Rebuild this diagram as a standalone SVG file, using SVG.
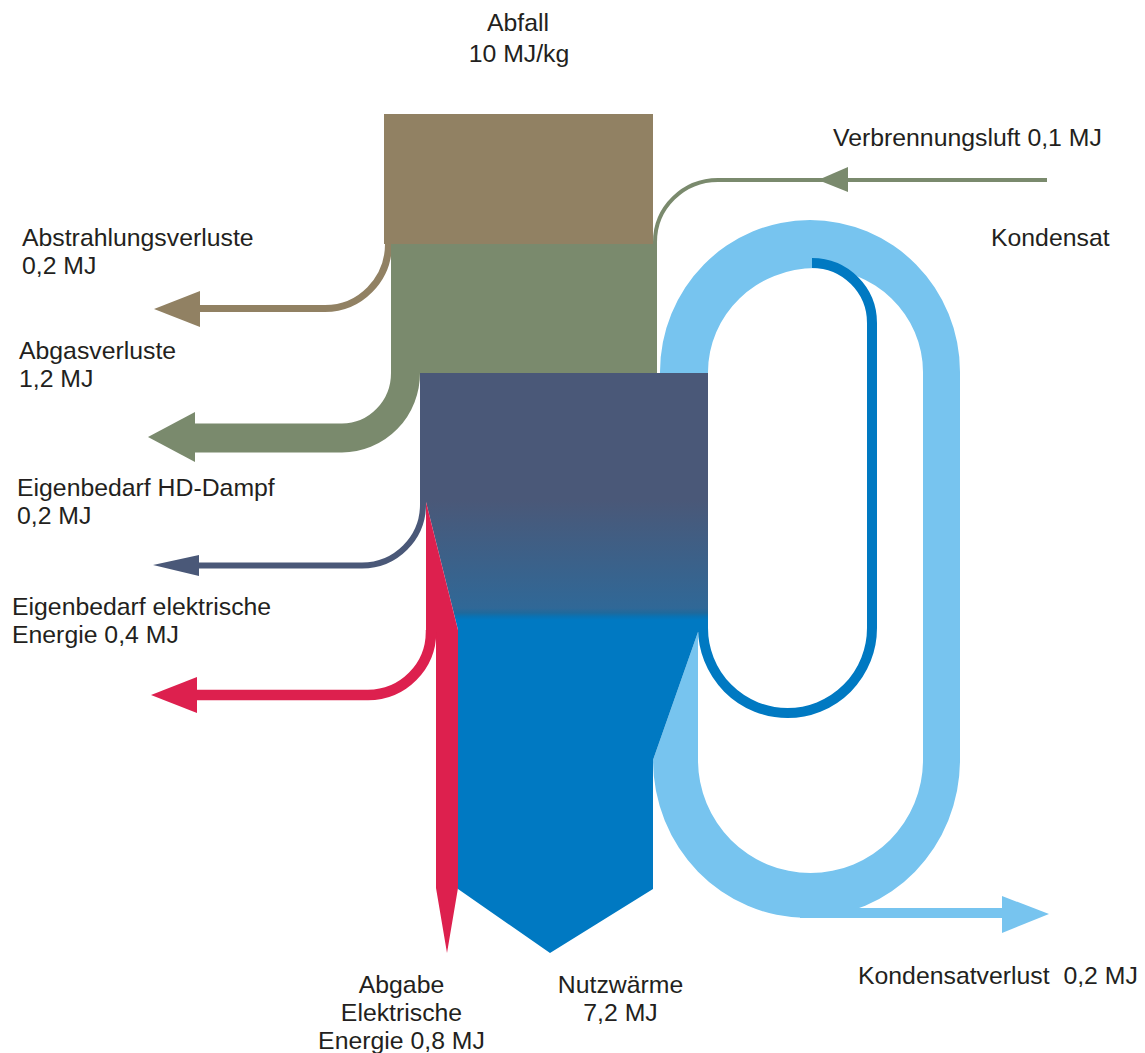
<svg xmlns="http://www.w3.org/2000/svg" width="1145" height="1053" viewBox="0 0 1145 1053">
  <style>
    text { font-family: "Liberation Sans", Arial, sans-serif; font-size: 24.8px; fill: #231f20; }
    .c { text-anchor: middle; }
    .brown { fill: #918163; }
    .green { fill: #7a8a6d; }
    .navy { fill: #4a5878; }
    .red { fill: #dd204e; }
    .lblue { fill: #77c4ef; }
    .line { fill: none; stroke-linecap: butt; }
  </style>
  <defs>
    <linearGradient id="bodyGrad" gradientUnits="userSpaceOnUse" x1="0" y1="500" x2="0" y2="620">
      <stop offset="0" stop-color="#4a5878"/>
      <stop offset="0.9" stop-color="#306897"/>
      <stop offset="0.94" stop-color="#1f699c"/>
      <stop offset="0.97" stop-color="#0a72b3"/>
      <stop offset="1" stop-color="#0079c2"/>
    </linearGradient>
  </defs>
  <rect width="1145" height="1053" fill="#ffffff"/>

  <g id="connectors">
    <!-- Kondensat loop (light blue) -->
    <path class="lblue" d="M 660,373 L 660,372 A 150 152 0 0 1 960,372 L 960,760 A 153.5 158 0 0 1 653,760 L 698,760 A 112.5 113 0 0 0 923,760 L 923,372 A 107.5 104 0 0 0 708,372 L 708,373 Z"/>
    <polygon class="lblue" points="698,632 653,760 698,760"/>
    <!-- Kondensatverlust arrow -->
    <rect class="lblue" x="800" y="908" width="202" height="10"/>
    <polygon class="lblue" points="1002,896 1049,914 1002,933"/>
    <!-- thin dark blue loop -->
    <path class="line" stroke="#0079c2" stroke-width="10" d="M 703,615 L 703,628 A 84.5 85 0 0 0 872,628 L 872,323 A 60 60 0 0 0 812,263"/>
    <!-- Verbrennungsluft -->
    <path class="line" stroke="#7a8a6d" stroke-width="4" d="M 1047,180 L 718,180 A 63 62 0 0 0 655,242 L 655,246"/>
    <polygon class="green" points="818,180 848,167 848,192"/>
    <!-- Abstrahlungsverluste -->
    <path class="line" stroke="#918163" stroke-width="7" d="M 388.5,243 L 388.5,244 A 63.5 64.5 0 0 1 325,308.5 L 199,308.5"/>
    <polygon class="brown" points="200,291 154,309 200,327"/>
    <!-- Abgasverluste -->
    <path class="line" stroke="#7a8a6d" stroke-width="29" d="M 405.5,372 L 405.5,373 A 63.5 65 0 0 1 342,438 L 194,438"/>
    <polygon class="green" points="195,412 148,437 195,462"/>
    <!-- Eigenbedarf HD-Dampf -->
    <path class="line" stroke="#4a5878" stroke-width="6" d="M 423,498 L 423,504.5 A 61 61 0 0 1 362,565.5 L 198,565.5"/>
    <polygon class="navy" points="199,555 153,565 199,576"/>
  </g>

  <g id="node-abfall">
    <rect class="brown" x="384" y="114" width="269" height="130"/>
  </g>
  <g id="node-feuerung">
    <rect class="green" x="391" y="244" width="266" height="129"/>
  </g>
  <g id="node-kessel">
    <path fill="url(#bodyGrad)" d="M 420,373 L 708,373 L 708,632 L 698,632 L 653,760 L 653,889 L 550,953 L 458,889 L 458,630 L 426,502 L 420,502 Z"/>
  </g>

  <g id="node-strom">
    <polygon class="red" points="426,502 458,630 458,888 447,953 436,888 436,632 426,632"/>
    <path class="line" stroke="#dd204e" stroke-width="10.5" d="M 431,630 L 431,632 A 63 63 0 0 1 368,695 L 196,695"/>
    <polygon class="red" points="197,677 151,695 197,713"/>
  </g>

  <g id="labels">
    <text class="c" x="518" y="31">Abfall</text>
    <text class="c" x="519" y="62">10 MJ/kg</text>
    <text x="833" y="146">Verbrennungsluft 0,1 MJ</text>
    <text x="991" y="246">Kondensat</text>
    <text x="22" y="246">Abstrahlungsverluste</text>
    <text x="22" y="274">0,2 MJ</text>
    <text x="19" y="359">Abgasverluste</text>
    <text x="19" y="387">1,2 MJ</text>
    <text x="17" y="496">Eigenbedarf HD-Dampf</text>
    <text x="17" y="524">0,2 MJ</text>
    <text x="12" y="615">Eigenbedarf elektrische</text>
    <text x="12" y="643">Energie 0,4 MJ</text>
    <text class="c" x="401.5" y="993">Abgabe</text>
    <text class="c" x="401.5" y="1021">Elektrische</text>
    <text class="c" x="401.5" y="1049">Energie 0,8 MJ</text>
    <text class="c" x="620.5" y="993">Nutzwärme</text>
    <text class="c" x="620.5" y="1021">7,2 MJ</text>
    <text x="858" y="984" style="white-space:pre">Kondensatverlust  0,2 MJ</text>
  </g>
</svg>
